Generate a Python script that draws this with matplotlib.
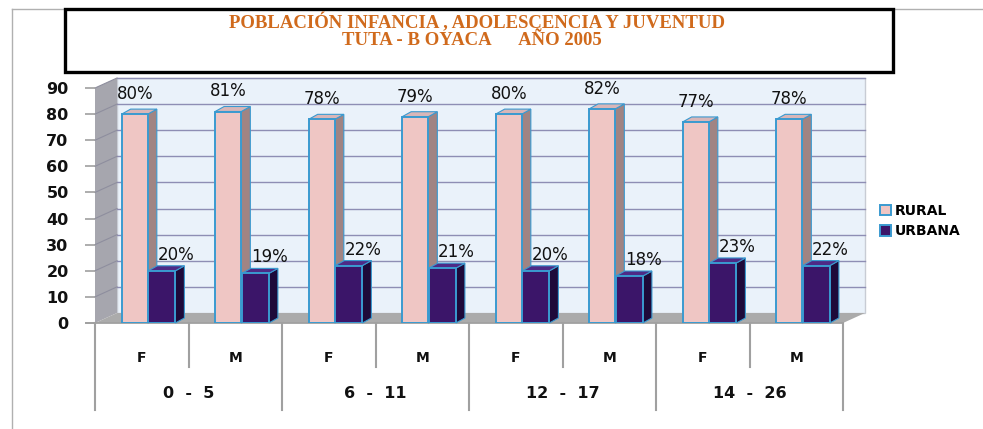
import matplotlib
matplotlib.use("Agg")
import matplotlib.pyplot as plt
from matplotlib.patches import Rectangle, Polygon
from matplotlib.lines import Line2D
import matplotlib.transforms as mtransforms

# ---------------- data ----------------
groups = ["0  -  5", "6  -  11", "12  -  17", "14  -  26"]
sexes = ["F", "M"]
rural = [80, 81, 78, 79, 80, 82, 77, 78]
urbana = [20, 19, 22, 21, 20, 18, 23, 22]
series_names = ["RURAL", "URBANA"]
title_line1 = "POBLACIÓN INFANCIA , ADOLESCENCIA Y JUVENTUD"
title_line2 = "TUTA - B OYACA      AÑO 2005"
yticks = list(range(0, 100, 10))

# ---------------- style ----------------
W, H, DPI = 983, 429, 100
C_RURAL, C_RURAL_SIDE, C_RURAL_TOP = "#EFC6C4", "#A08483", "#D8B6B8"
C_URB, C_URB_SIDE, C_URB_TOP = "#3B1569", "#1E0A3A", "#4E2A86"
C_EDGE = "#3A9AD0"
C_WALL, C_GRID, C_SIDEWALL, C_FLOOR = "#EAF2FA", "#8E8EB4", "#A6A6AE", "#ABABAB"
C_TITLE = "#D06A1C"
C_LINES = "#A0A0A0"

fig = plt.figure(figsize=(W / DPI, H / DPI), dpi=DPI)
fig.patch.set_facecolor("white")

# axes in pixel geometry
L, R, B, T = 95, 843, 323, 88
ax = fig.add_axes([L / W, 1 - B / H, (R - L) / W, (B - T) / H])
ncat = len(rural)
ax.set_xlim(0, ncat)
ax.set_ylim(0, 90)
for s in ax.spines.values():
    s.set_visible(False)
ax.patch.set_alpha(0)

px_x = (R - L) / ncat          # pixels per category
px_y = (B - T) / 90.0          # pixels per unit
WDX, WDY = 22 / px_x, 10 / px_y     # wall depth in data units
BDX, BDY = 9 / px_x, 5 / px_y       # bar depth in data units

# back wall
ax.add_patch(Rectangle((WDX, WDY), ncat, 90, facecolor=C_WALL, edgecolor="#C8CCD4",
                       lw=1, zorder=0, clip_on=False))
for yv in yticks[1:]:
    ax.plot([WDX, ncat + WDX], [yv + WDY, yv + WDY], color=C_GRID, lw=1,
            zorder=0.5, clip_on=False)
# side wall
ax.add_patch(Polygon([(0, 0), (0, 90), (WDX, 90 + WDY), (WDX, WDY)], closed=True,
                     facecolor=C_SIDEWALL, edgecolor="none", zorder=0.6, clip_on=False))
for yv in yticks[1:]:
    ax.plot([0, WDX], [yv, yv + WDY], color="#8E8E9E", lw=0.8, zorder=0.7, clip_on=False)
# floor
ax.add_patch(Polygon([(0, 0), (ncat, 0), (ncat + WDX, WDY), (WDX, WDY)], closed=True,
                     facecolor=C_FLOOR, edgecolor="none", zorder=0.8, clip_on=False))

# bars
xs = list(range(ncat))
bars_r = ax.bar([x + 0.285 for x in xs], rural, width=0.28, align="edge",
                color=C_RURAL, edgecolor=C_EDGE, lw=1.4, zorder=3, label=series_names[0])
bars_u = ax.bar([x + 0.57 for x in xs], urbana, width=0.29, align="edge",
                color=C_URB, edgecolor=C_EDGE, lw=1.4, zorder=5, label=series_names[1])


def add_depth(bars, side_c, top_c, z):
    for rect in bars:
        x0, w, h = rect.get_x(), rect.get_width(), rect.get_height()
        ax.add_patch(Polygon([(x0 + w, 0), (x0 + w + BDX, BDY), (x0 + w + BDX, h + BDY),
                              (x0 + w, h)], closed=True, facecolor=side_c,
                             edgecolor=C_EDGE, lw=0.8, zorder=z, clip_on=False))
        ax.add_patch(Polygon([(x0, h), (x0 + BDX, h + BDY), (x0 + w + BDX, h + BDY),
                              (x0 + w, h)], closed=True, facecolor=top_c,
                             edgecolor=C_EDGE, lw=0.8, zorder=z, clip_on=False))


add_depth(bars_r, C_RURAL_SIDE, C_RURAL_TOP, 2.9)
add_depth(bars_u, C_URB_SIDE, C_URB_TOP, 4.9)

for rect, v in zip(bars_r, rural):
    ax.annotate(f"{v}%", (rect.get_x() + rect.get_width() / 2, v), xytext=(0, 8),
                textcoords="offset points", ha="center", va="bottom", fontsize=12,
                color="#111111", zorder=6, annotation_clip=False)
for rect, v in zip(bars_u, urbana):
    ax.annotate(f"{v}%", (rect.get_x() + rect.get_width() / 2, v), xytext=(10, 5),
                textcoords="offset points", ha="center", va="bottom", fontsize=12,
                color="#111111", zorder=6, annotation_clip=False)

# y axis
ax.set_yticks(yticks)
ax.set_yticklabels([str(t) for t in yticks], fontsize=11.5, fontweight="bold", color="#111111")
ax.tick_params(axis="y", length=7, width=1.2, color=C_LINES, pad=12)

# x axis: two-level categories
ax.set_xticks([x + 0.5 for x in xs])
ax.set_xticklabels([sexes[i % 2] for i in xs], fontsize=10, fontweight="bold", color="#111111")
ax.tick_params(axis="x", length=0, pad=20)
blend = mtransforms.blended_transform_factory(ax.transData, ax.transAxes)
y_small = -(367 - B) / (B - T)
y_big = -(410 - B) / (B - T)
y_grp = -(394 - B) / (B - T)
ax.plot([-9 / px_x, ncat], [0, 0], color=C_LINES, lw=1.3, clip_on=False, zorder=1)
for x in range(ncat + 1):
    yb = y_big if x % 2 == 0 else y_small
    ax.plot([x, x], [0, yb], transform=blend, color=C_LINES, lw=1.5, clip_on=False)
for g, name in enumerate(groups):
    ax.text(2 * g + 1, y_grp, name, transform=blend, ha="center", va="center",
            fontsize=11.5, fontweight="bold", color="#111111")

# legend
fig.legend(handles=[bars_r, bars_u], labels=series_names, loc="center left",
           bbox_to_anchor=(867 / W, 1 - 221 / H), frameon=False,
           prop=dict(weight="bold", size=10), handlelength=0.8, handleheight=0.8,
           handletextpad=0.3, labelspacing=0.45)

# outer frame lines
fig.add_artist(Line2D([12 / W, 12 / W], [0, 1 - 9 / H], color="#B0B0B0", lw=1))
fig.add_artist(Line2D([12 / W, 1], [1 - 9 / H, 1 - 9 / H], color="#B0B0B0", lw=1))

# title box
fig.add_artist(Rectangle((65 / W, 1 - 72 / H), 828 / W, 63 / H, transform=fig.transFigure,
                         facecolor="white", edgecolor="black", lw=2.4, zorder=5))
fig.text(477 / W, 1 - 28 / H, title_line1, ha="center", va="baseline", fontsize=13.5,
         fontweight="bold", family="Liberation Serif", color=C_TITLE, zorder=6)
fig.text(472 / W, 1 - 45 / H, title_line2, ha="center", va="baseline", fontsize=13.5,
         fontweight="bold", family="Liberation Serif", color=C_TITLE, zorder=6)

fig.savefig("out.png", dpi=DPI)
